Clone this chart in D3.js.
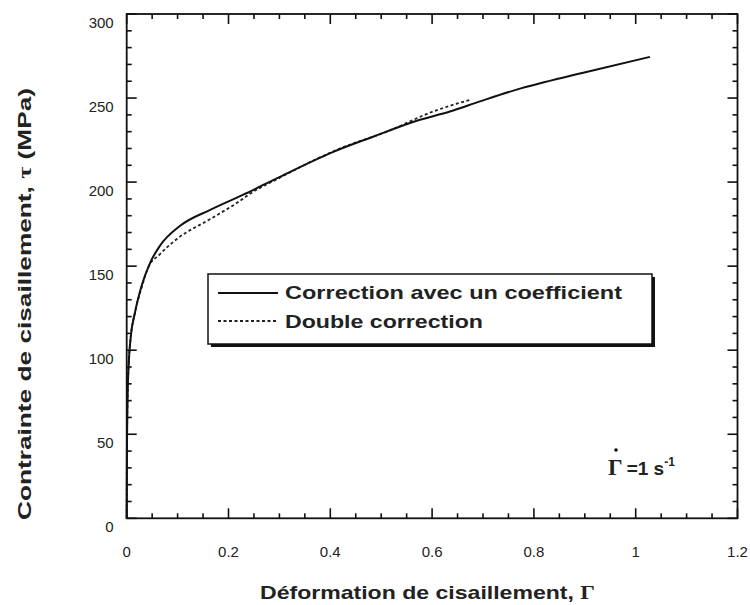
<!DOCTYPE html>
<html>
<head>
<meta charset="utf-8">
<script src="https://d3js.org/d3.v7.min.js"></script>
<style>
  body { margin: 0; background: #fff; }
  svg { display: block; }
  text { font-family: Arial, "Liberation Sans", Helvetica, sans-serif; fill: #222; }
</style>
</head>
<body>
<svg id="chart" width="750" height="605"></svg>
<script>
// ---- Data ----
const seriesNames = ["Correction avec un coefficient", "Double correction"];

const strainOne  = [0, 0.0005, 0.002, 0.004, 0.008, 0.016, 0.029, 0.046, 0.065, 0.105, 0.164, 0.229, 0.30, 0.406, 0.484, 0.570, 0.635, 0.694, 0.766, 0.897, 1.028];
const stressOne  = [0, 40, 75, 92, 108, 122, 138, 152, 162, 174, 183.5, 192.5, 203, 218, 227, 236.5, 242, 248, 255, 265, 274.5];

const strainTwo  = [0, 0.0005, 0.002, 0.004, 0.008, 0.016, 0.029, 0.042, 0.065, 0.098, 0.164, 0.216, 0.242, 0.30, 0.419, 0.511, 0.602, 0.675];
const stressTwo  = [0, 40, 75, 92, 108, 122, 137, 149, 157, 166, 178, 187.5, 193, 202.5, 220, 230, 242, 249];

const xMajorTicks = [0, 0.2, 0.4, 0.6, 0.8, 1, 1.2];
const xTickLabels = ["0", "0.2", "0.4", "0.6", "0.8", "1", "1.2"];
const yMajorTicks = [0, 50, 100, 150, 200, 250, 300];
const yTickLabels = ["0", "50", "100", "150", "200", "250", "300"];

// ---- Layout ----
const svg = d3.select("#chart");
const x = d3.scaleLinear().domain([0, 1.2]).range([126.7, 737.5]);
const y = d3.scaleLinear().domain([0, 300]).range([518.3, 14]);
const x0 = x.range()[0], x1 = x.range()[1], y0 = y.range()[0], y1 = y.range()[1];

const xMinor = d3.range(0, 1.2001, 0.05).filter(v => !xMajorTicks.some(m => Math.abs(m - v) < 1e-6));
const yMinor = d3.range(0, 300.01, 10).filter(v => !yMajorTicks.some(m => Math.abs(m - v) < 1e-6));

const axes = svg.append("g");

// frame
axes.append("rect").attr("x", x0).attr("y", y1).attr("width", x1 - x0).attr("height", y0 - y1)
  .attr("fill", "none").attr("stroke", "#111").attr("stroke-width", 1.8);

const xTicks = xMajorTicks.map(v => ({v, len: 10})).concat(xMinor.map(v => ({v, len: 5})));
const yTicks = yMajorTicks.map(v => ({v, len: 10})).concat(yMinor.map(v => ({v, len: 5})));

// ticks drawn inward on all four sides, as thin rectangles
const tickRects = [];
xTicks.forEach(d => {
  tickRects.push({x: x(d.v) - 0.8, y: y0 - d.len, w: 1.6, h: d.len});
  tickRects.push({x: x(d.v) - 0.8, y: y1, w: 1.6, h: d.len});
});
yTicks.forEach(d => {
  tickRects.push({x: x0, y: y(d.v) - 0.8, w: d.len, h: 1.6});
  tickRects.push({x: x1 - d.len, y: y(d.v) - 0.8, w: d.len, h: 1.6});
});
axes.selectAll("rect.tk").data(tickRects).enter().append("rect")
  .attr("class", "tk")
  .attr("x", d => d.x).attr("y", d => d.y).attr("width", d => d.w).attr("height", d => d.h)
  .attr("fill", "#111");

// tick labels
svg.selectAll("text.xl").data(xMajorTicks).enter().append("text").attr("class", "xl")
  .attr("x", d => x(d)).attr("y", y0 + 38.5).attr("text-anchor", "middle")
  .attr("font-size", 15).attr("fill", "#333").text((d, i) => xTickLabels[i]);
svg.selectAll("text.yl").data(yMajorTicks).enter().append("text").attr("class", "yl")
  .attr("x", x0 - 13).attr("y", d => y(d) + 13.5).attr("text-anchor", "end")
  .attr("font-size", 15).attr("fill", "#333").text((d, i) => yTickLabels[i]);

// ---- Curves ----
const line = d3.line().x(d => x(d[0])).y(d => y(d[1])).curve(d3.curveMonotoneX);
const dataOne = strainOne.map((v, i) => [v, stressOne[i]]);
const dataTwo = strainTwo.map((v, i) => [v, stressTwo[i]]);

svg.append("path").datum(dataTwo).attr("d", line)
  .attr("fill", "none").attr("stroke", "#222").attr("stroke-width", 1.8)
  .attr("stroke-dasharray", "3,2.5");
svg.append("path").datum(dataOne).attr("d", line)
  .attr("fill", "none").attr("stroke", "#111").attr("stroke-width", 2);

// ---- Legend ----
const lg = svg.append("g");
lg.append("rect").attr("x", 211).attr("y", 277).attr("width", 444).attr("height", 70).attr("fill", "#111");
lg.append("rect").attr("x", 208).attr("y", 274).attr("width", 444).attr("height", 70)
  .attr("fill", "#fff").attr("stroke", "#111").attr("stroke-width", 1.5);
lg.append("line").attr("x1", 218).attr("x2", 278).attr("y1", 293).attr("y2", 293)
  .attr("stroke", "#111").attr("stroke-width", 2);
lg.append("line").attr("x1", 218).attr("x2", 278).attr("y1", 321).attr("y2", 321)
  .attr("stroke", "#222").attr("stroke-width", 1.8).attr("stroke-dasharray", "3,2.5");
lg.append("text").attr("x", 285).attr("y", 299).attr("font-size", 19).attr("font-weight", "bold")
  .attr("textLength", 337).attr("lengthAdjust", "spacingAndGlyphs").text(seriesNames[0]);
lg.append("text").attr("x", 285).attr("y", 328).attr("font-size", 19).attr("font-weight", "bold")
  .attr("textLength", 198).attr("lengthAdjust", "spacingAndGlyphs").text(seriesNames[1]);

// ---- Rate annotation ----
const ann = svg.append("text").attr("x", 608).attr("y", 475).attr("font-size", 19).attr("font-weight", "bold");
ann.append("tspan").attr("font-family", "'Liberation Serif', 'Times New Roman', serif").attr("font-size", 23).text("Γ");
ann.append("tspan").attr("dx", 4).text("=1 s");
ann.append("tspan").attr("font-size", 12).attr("dy", -9).text("-1");
svg.append("circle").attr("cx", 616).attr("cy", 450).attr("r", 1.8).attr("fill", "#111");

// ---- Axis titles ----
const xt = svg.append("text").attr("x", 260).attr("y", 599).attr("font-size", 19).attr("font-weight", "bold")
  .attr("textLength", 335).attr("lengthAdjust", "spacingAndGlyphs");
xt.append("tspan").text("Déformation de cisaillement, ");
xt.append("tspan").attr("font-family", "'Liberation Serif', 'Times New Roman', serif").text("Γ");

const yt = svg.append("text").attr("transform", "translate(31,520) rotate(-90)")
  .attr("x", 0).attr("y", 0).attr("font-size", 19).attr("font-weight", "bold")
  .attr("textLength", 432).attr("lengthAdjust", "spacingAndGlyphs");
yt.append("tspan").text("Contrainte de cisaillement, ");
yt.append("tspan").attr("font-family", "'Liberation Serif', 'Times New Roman', serif").text("τ");
yt.append("tspan").text(" (MPa)");
</script>
</body>
</html>
